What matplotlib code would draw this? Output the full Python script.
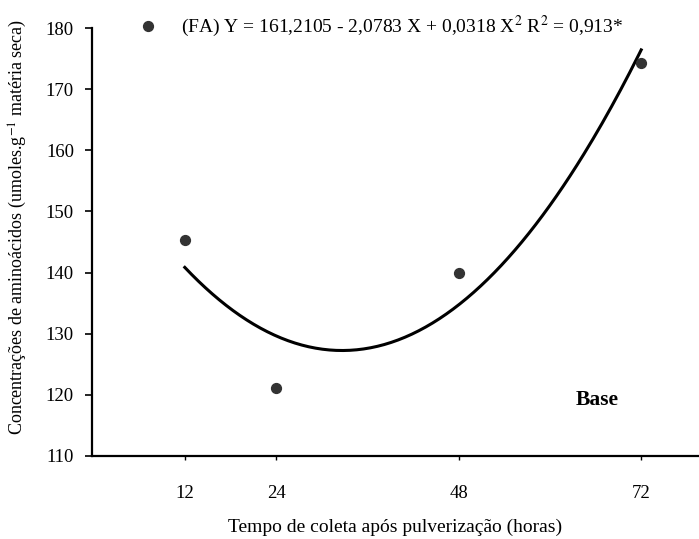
import numpy as np
import matplotlib.pyplot as plt

plt.rcParams['font.family'] = ['Liberation Serif', 'DejaVu Serif']
plt.rcParams['mathtext.fontset'] = 'stix'

# data
horas = [12, 24, 48, 72]
aminoacidos = [145.3, 121.1, 140.0, 174.3]
y_ticks = [110, 120, 130, 140, 150, 160, 170, 180]

# fitted quadratic (FA)
coef = [161.2105, -2.0783, 0.0318]
r2 = "0,913"

fig = plt.figure(figsize=(6.99, 5.39), dpi=100)
ax = fig.add_axes([0.1316, 0.154, 0.8684, 0.794])

# points and regression curve
ax.scatter(horas, aminoacidos, s=50, color='#333333', zorder=3,
           label="(FA) Y = 161,2105 - 2,0783 X + 0,0318 X$^2$ R$^2$ = " + r2 + "*")
xc = np.linspace(horas[0], horas[-1], 200)
yc = coef[0] + coef[1] * xc + coef[2] * xc**2
ax.plot(xc, yc, color='black', lw=2.2)

ax.set_xlim(-0.2, 79.6)
ax.set_ylim(110, 180)
ax.set_yticks(y_ticks)
ax.set_xticks(horas)
ax.tick_params(axis='y', direction='out', length=5, width=1.2, labelsize=13.5, pad=8)
ax.tick_params(axis='x', direction='out', length=3, width=1.0, labelsize=13.5, pad=18)

for s in ['top', 'right']:
    ax.spines[s].set_visible(False)
ax.spines['left'].set_linewidth(1.6)
ax.spines['bottom'].set_linewidth(1.6)

ax.set_xlabel("Tempo de coleta após pulverização (horas)", fontsize=14, labelpad=12)
ax.set_ylabel("Concentrações de aminoácidos (umoles.g$^{-1}$ matéria seca)",
              fontsize=13)
ax.yaxis.set_label_coords(-0.104, 0.535)

ax.legend(loc='center left', bbox_to_anchor=(0.047, 1.005), frameon=False,
          fontsize=14, handletextpad=0.7, borderaxespad=0)

ax.text(0.832, 0.131, "Base", transform=ax.transAxes, fontsize=15.5,
        fontweight='bold', ha='center', va='center')

fig.savefig("out.png", dpi=100)
